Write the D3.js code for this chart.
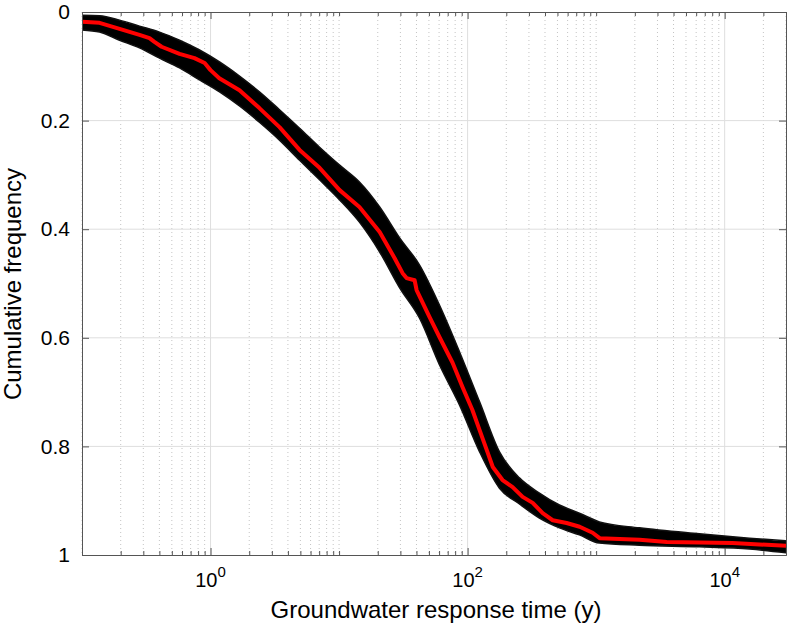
<!DOCTYPE html>
<html>
<head>
<meta charset="utf-8">
<script src="https://cdn.jsdelivr.net/npm/d3@7"></script>
<style>
  body { margin: 0; background: #fff; }
  text { font-family: "Liberation Sans", Arial, Helvetica, sans-serif; }
</style>
</head>
<body>
<svg id="chart" width="788" height="628"></svg>
<script>
// reference curve (red)
const redTime = [0.1, 0.137, 0.196, 0.28, 0.335, 0.366, 0.416, 0.574, 0.75, 0.9, 1.0, 1.17, 1.68, 2.4, 3.44,
    4.93, 7.05, 10.1, 14.4, 20.7, 27.0, 31.2, 33.5, 38.7, 40.1, 50.6, 60.5, 76.4, 91.4, 109, 124, 141,
    157, 187, 224, 268, 321, 384, 459, 589, 744, 939, 1065, 2180, 3540, 11500, 30000];
const redFreq = [0.018, 0.020, 0.031, 0.042, 0.048, 0.055, 0.064, 0.077, 0.085, 0.094, 0.107, 0.122, 0.144, 0.177, 0.212,
    0.254, 0.287, 0.328, 0.359, 0.405, 0.453, 0.481, 0.490, 0.494, 0.512, 0.562, 0.599, 0.646, 0.691, 0.733, 0.770, 0.807,
    0.838, 0.862, 0.875, 0.893, 0.904, 0.923, 0.936, 0.941, 0.948, 0.959, 0.969, 0.972, 0.976, 0.978, 0.983];

// spread of the ensemble of realisations (black band)
const bandTime = [0.1, 0.137, 0.196, 0.28, 0.401, 0.574, 0.821, 1.175, 1.68, 2.4, 3.44, 4.93, 7.05, 10.1, 14.4,
    20.7, 29.6, 42.3, 60.5, 86.6, 124, 177, 253, 362, 518, 741, 1060, 2170, 6340, 15600, 30000];
const bandUpper = [0.006, 0.007, 0.015, 0.026, 0.037, 0.052, 0.070, 0.092, 0.118, 0.147, 0.180, 0.214, 0.249, 0.282, 0.313,
    0.359, 0.416, 0.466, 0.540, 0.626, 0.718, 0.810, 0.858, 0.886, 0.908, 0.923, 0.939, 0.950, 0.961, 0.969, 0.974];
const bandLower = [0.033, 0.037, 0.052, 0.066, 0.085, 0.103, 0.125, 0.147, 0.173, 0.203, 0.236, 0.273, 0.309, 0.346, 0.387,
    0.442, 0.508, 0.564, 0.650, 0.724, 0.810, 0.877, 0.906, 0.932, 0.950, 0.963, 0.978, 0.982, 0.985, 0.989, 0.996];

const yTicks = [0, 0.2, 0.4, 0.6, 0.8, 1];
const xMajor = [1, 100, 10000];
const xMajorExp = ["0", "2", "4"];

const svg = d3.select("#chart");
const plotLeft = 82, plotRight = 786, plotTop = 12, plotBottom = 555;

const x = d3.scaleLog().domain([0.1, 3e4]).range([plotLeft, plotRight]);
const y = d3.scaleLinear().domain([0, 1]).range([plotTop, plotBottom]);

const xMinor = x.ticks().filter(function (t) { return xMajor.indexOf(t) < 0; });

// grid
const grid = svg.append("g");
grid.selectAll("line.minor").data(xMinor).enter().append("line")
    .attr("x1", function (d) { return x(d); }).attr("x2", function (d) { return x(d); })
    .attr("y1", plotTop).attr("y2", plotBottom)
    .attr("stroke", "#c4c4c4").attr("stroke-width", 1).attr("stroke-dasharray", "1,3");
grid.selectAll("line.major").data(xMajor).enter().append("line")
    .attr("x1", function (d) { return x(d); }).attr("x2", function (d) { return x(d); })
    .attr("y1", plotTop).attr("y2", plotBottom)
    .attr("stroke", "#dedede").attr("stroke-width", 1);
grid.selectAll("line.ygrid").data(yTicks.slice(1, -1)).enter().append("line")
    .attr("x1", plotLeft).attr("x2", plotRight)
    .attr("y1", function (d) { return y(d); }).attr("y2", function (d) { return y(d); })
    .attr("stroke", "#dedede").attr("stroke-width", 1);

// data
svg.append("clipPath").attr("id", "plotclip").append("rect")
    .attr("x", plotLeft).attr("y", plotTop)
    .attr("width", plotRight - plotLeft).attr("height", plotBottom - plotTop);
const plot = svg.append("g").attr("clip-path", "url(#plotclip)");

const band = d3.area()
    .x(function (d, i) { return x(bandTime[i]); })
    .y0(function (d, i) { return y(bandUpper[i]); })
    .y1(function (d, i) { return y(bandLower[i]); })
    .curve(d3.curveMonotoneX);
plot.append("path").datum(bandTime)
    .attr("d", band)
    .attr("fill", "#000").attr("stroke", "#111").attr("stroke-width", 1.5);

const line = d3.line()
    .x(function (d, i) { return x(redTime[i]); })
    .y(function (d, i) { return y(redFreq[i]); });
plot.append("path").datum(redTime)
    .attr("d", line)
    .attr("fill", "none").attr("stroke", "#ff0000").attr("stroke-width", 4)
    .attr("stroke-linejoin", "round");

// axes (ticks inward, box on)
function styleAxis(g) {
    g.select(".domain").attr("stroke", "#555");
    g.selectAll(".tick line").attr("stroke", "#555");
}
svg.append("g").attr("transform", "translate(0," + plotBottom + ")")
    .call(d3.axisBottom(x).tickValues(xMinor).tickSize(-4).tickSizeOuter(0).tickFormat(""))
    .call(styleAxis);
svg.append("g").attr("transform", "translate(0," + plotBottom + ")")
    .call(d3.axisBottom(x).tickValues(xMajor).tickSize(-7).tickSizeOuter(0).tickFormat(""))
    .call(styleAxis);
svg.append("g").attr("transform", "translate(0," + plotTop + ")")
    .call(d3.axisTop(x).tickValues(xMinor).tickSize(-4).tickSizeOuter(0).tickFormat(""))
    .call(styleAxis);
svg.append("g").attr("transform", "translate(0," + plotTop + ")")
    .call(d3.axisTop(x).tickValues(xMajor).tickSize(-7).tickSizeOuter(0).tickFormat(""))
    .call(styleAxis);

const yAxis = svg.append("g").attr("transform", "translate(" + plotLeft + ",0)")
    .call(d3.axisLeft(y).tickValues(yTicks).tickSize(-7).tickSizeOuter(0).tickPadding(12)
        .tickFormat(function (d) { return String(+d.toFixed(1)); }))
    .call(styleAxis);
yAxis.selectAll(".tick text").attr("font-size", 21).attr("fill", "#000")
    .attr("font-family", "'Liberation Sans', Arial, sans-serif");
svg.append("g").attr("transform", "translate(" + plotRight + ",0)")
    .call(d3.axisRight(y).tickValues(yTicks).tickSize(-7).tickSizeOuter(0).tickFormat(""))
    .call(styleAxis);

// x tick labels 10^n
const xl = svg.append("g").selectAll("text").data(xMajor).enter().append("text")
    .attr("x", function (d) { return x(d); })
    .attr("y", 587)
    .attr("text-anchor", "middle")
    .attr("font-size", 20).attr("fill", "#000");
xl.append("tspan").text("10");
xl.append("tspan").attr("dy", -10).attr("font-size", 15)
    .text(function (d, i) { return xMajorExp[i]; });

// axis titles
svg.append("text")
    .attr("x", 436).attr("y", 618)
    .attr("text-anchor", "middle").attr("font-size", 24).attr("fill", "#000")
    .text("Groundwater response time (y)");
svg.append("text")
    .attr("transform", "translate(21,284) rotate(-90)")
    .attr("text-anchor", "middle").attr("font-size", 24).attr("fill", "#000")
    .text("Cumulative frequency");
</script>
</body>
</html>
